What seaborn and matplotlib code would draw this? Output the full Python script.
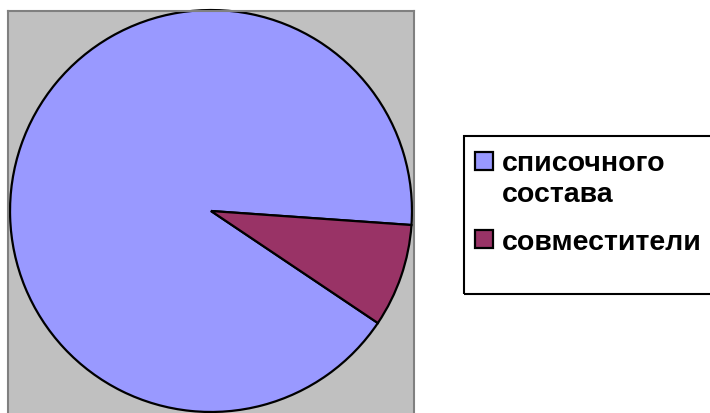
import matplotlib
matplotlib.use("Agg")
import matplotlib.pyplot as plt
import seaborn as sns
from matplotlib.patches import Rectangle
from matplotlib.legend_handler import HandlerPatch

sns.set_style("white")
plt.rcParams["font.family"] = ["Liberation Sans", "DejaVu Sans"]

labels = ["списочного\nсостава", "совместители"]
values = [91.7, 8.3]
colors = ["#9999FF", "#993366"]

W, H = 710, 414
fig = plt.figure(figsize=(W / 100, H / 100), dpi=100)

# plot area (grey box) in pixel coords: x 8..414, y 12..416 (top-down)
ax = fig.add_axes([8 / W, -2 / H, 406 / W, 404 / H])
wedges, _ = ax.pie(values, colors=colors, startangle=-4, counterclock=True,
                   radius=0.99, frame=True,
                   wedgeprops=dict(edgecolor="black", linewidth=1.6))
ax.set_facecolor("#C0C0C0")
ax.set_aspect("auto")
ax.set_xlim(-1, 1)
ax.set_ylim(-204 / 203, 200 / 203)
ax.set_xticks([])
ax.set_yticks([])
for s in ax.spines.values():
    s.set_visible(True)
    s.set_color("#808080")
    s.set_linewidth(1.5)


# square legend keys, lined up with the first line of each label
def square_key(legend, orig_handle, xdescent, ydescent, width, height, fontsize):
    lift = 0.6 * fontsize if orig_handle is wedges[0] else 0.0
    return Rectangle((-xdescent, -ydescent + 0.05 * fontsize + lift),
                     width, width)


# legend frame
fig.patches.append(Rectangle((464 / W, 1 - 295 / H), 260 / W, 158 / H,
                             transform=fig.transFigure, fill=False,
                             edgecolor="black", linewidth=1.5))
leg = fig.legend(wedges, labels, loc="upper left",
                 bbox_to_anchor=(475 / W, 1 - 151 / H), frameon=False,
                 prop=dict(size=20.5, weight="bold"), labelcolor="black",
                 handler_map={w: HandlerPatch(patch_func=square_key) for w in wedges},
                 handlelength=0.63, handleheight=0.7, handletextpad=0.32,
                 labelspacing=0.77, borderpad=0, borderaxespad=0)
for t in leg.get_texts():
    t.set_linespacing(1.25)

fig.savefig("out.png", dpi=100)
